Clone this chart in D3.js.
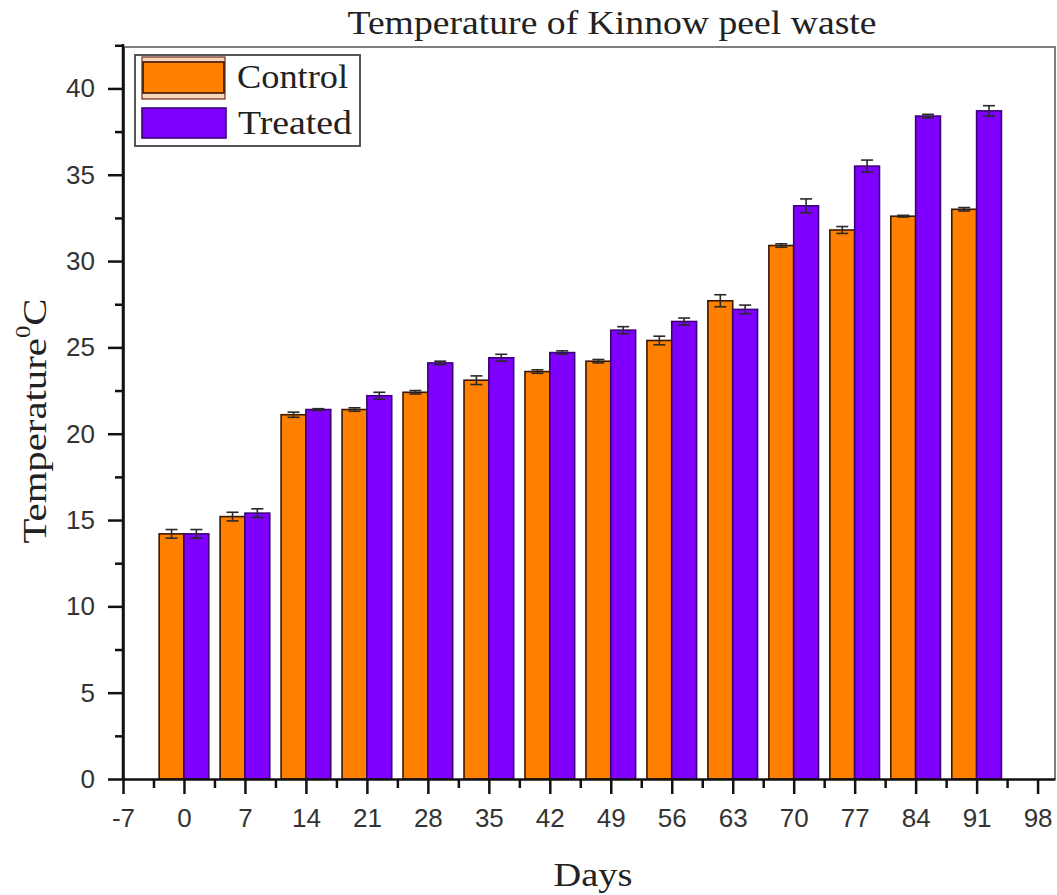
<!DOCTYPE html>
<html>
<head>
<meta charset="utf-8">
<script src="https://d3js.org/d3.v7.min.js"></script>
<style>
  html, body { margin: 0; padding: 0; background: #fff; }
  svg { display: block; }
</style>
</head>
<body>
<svg id="chart" width="1057" height="895"></svg>
<script>
// Composting days sampled
const days = [0, 7, 14, 21, 28, 35, 42, 49, 56, 63, 70, 77, 84, 91];
// Mean temperature (°C) and error half-widths
const controlTemp = [14.2, 15.2, 21.1, 21.4, 22.4, 23.1, 23.6, 24.2, 25.4, 27.7, 30.9, 31.8, 32.6, 33.0];
const controlErr  = [0.25, 0.25, 0.15, 0.1, 0.1, 0.25, 0.1, 0.1, 0.25, 0.35, 0.1, 0.2, 0.05, 0.1];
const treatedTemp = [14.2, 15.4, 21.4, 22.2, 24.1, 24.4, 24.7, 26.0, 26.5, 27.2, 33.2, 35.5, 38.4, 38.7];
const treatedErr  = [0.25, 0.25, 0.05, 0.2, 0.1, 0.2, 0.1, 0.2, 0.2, 0.25, 0.4, 0.35, 0.1, 0.3];
// Axis ticks
const xTicks = [-7, 0, 7, 14, 21, 28, 35, 42, 49, 56, 63, 70, 77, 84, 91, 98];
const yTicks = [0, 5, 10, 15, 20, 25, 30, 35, 40];

const seriesNames = ["Control", "Treated"];
const fills = ["#ff8000", "#8000ff"];
const strokes = ["#3a1800", "#3c0078"];

const svg = d3.select("#chart");
const plotL = 123, plotR = 1055, plotT = 47, plotB = 779;

const x = d3.scaleLinear().domain([-7, 100]).range([plotL, plotR]);
const y = d3.scaleLinear().domain([0, 42.4]).range([plotB, plotT]);
const barW = 2.85; // bar width in days

const series = [
  { name: seriesNames[0], vals: controlTemp, errs: controlErr, off: -barW, fill: fills[0], stroke: strokes[0] },
  { name: seriesNames[1], vals: treatedTemp, errs: treatedErr, off: 0, fill: fills[1], stroke: strokes[1] }
];

// Bars
series.forEach(s => {
  const g = svg.append("g");
  g.selectAll("rect")
    .data(days.map((d, i) => ({ d, v: s.vals[i], e: s.errs[i] })))
    .join("rect")
    .attr("x", p => x(p.d + s.off))
    .attr("width", x(barW) - x(0))
    .attr("y", p => y(p.v))
    .attr("height", p => y(0) - y(p.v))
    .attr("fill", s.fill)
    .attr("stroke", s.stroke)
    .attr("stroke-width", 1.6);
});

// Error bars
series.forEach(s => {
  const g = svg.append("g").attr("stroke", "#2a2a2a").attr("stroke-width", 1.6);
  days.forEach((d, i) => {
    const cx = x(d + s.off + barW / 2);
    const hi = y(s.vals[i] + s.errs[i]), lo = y(s.vals[i] - s.errs[i]);
    g.append("line").attr("x1", cx).attr("x2", cx).attr("y1", hi).attr("y2", lo);
    g.append("line").attr("x1", cx - 6).attr("x2", cx + 6).attr("y1", hi).attr("y2", hi);
    g.append("line").attr("x1", cx - 6).attr("x2", cx + 6).attr("y1", lo).attr("y2", lo);
  });
});

// Frame top and right
svg.append("path")
  .attr("d", `M${plotL},${plotT}H${plotR}V${plotB}`)
  .attr("fill", "none").attr("stroke", "#555").attr("stroke-width", 1.5);

// X axis
svg.append("g").attr("transform", `translate(0,${plotB})`)
  .call(d3.axisBottom(x).tickValues(xTicks).tickSize(15).tickSizeOuter(0).tickPadding(15).tickFormat(d => String(d)));
svg.append("g").attr("transform", `translate(0,${plotB})`)
  .call(d3.axisBottom(x).tickValues(xTicks.slice(0, -1).map(t => t + 3.5)).tickSize(9).tickSizeOuter(0).tickFormat(""))
  .select(".domain").remove();

// Y axis
svg.append("g").attr("transform", `translate(${plotL},0)`)
  .call(d3.axisLeft(y).tickValues(yTicks).tickSize(15).tickSizeOuter(0).tickPadding(13));
svg.append("g").attr("transform", `translate(${plotL},0)`)
  .call(d3.axisLeft(y).tickValues(yTicks.map(t => t + 2.5)).tickSize(8).tickSizeOuter(0).tickFormat(""))
  .select(".domain").remove();

svg.selectAll(".domain").attr("stroke", "#111").attr("stroke-width", 2.5);
svg.selectAll(".tick line").attr("stroke", "#111").attr("stroke-width", 2.5);
svg.selectAll(".tick text")
  .attr("font-family", "'Liberation Sans', Arial, sans-serif")
  .attr("font-size", 26).attr("fill", "#333");

// Extend left axis slightly above the plot frame
svg.append("line").attr("x1", plotL).attr("x2", plotL).attr("y1", plotT - 3).attr("y2", plotB)
  .attr("stroke", "#111").attr("stroke-width", 2.5);

// Titles
const serif = "'Liberation Serif', 'Times New Roman', serif";
svg.append("text").attr("x", 612).attr("y", 34).attr("text-anchor", "middle")
  .attr("font-family", serif).attr("font-size", 34).attr("fill", "#222")
  .attr("textLength", 529).attr("lengthAdjust", "spacingAndGlyphs")
  .text("Temperature of Kinnow peel waste");

svg.append("text").attr("x", 593).attr("y", 886).attr("text-anchor", "middle")
  .attr("font-family", serif).attr("font-size", 34).attr("fill", "#222")
  .attr("textLength", 79).attr("lengthAdjust", "spacingAndGlyphs")
  .text("Days");

const yl = svg.append("text")
  .attr("transform", "translate(46,421) rotate(-90)")
  .attr("text-anchor", "middle")
  .attr("font-family", serif).attr("font-size", 33).attr("fill", "#222")
  .attr("textLength", 245).attr("lengthAdjust", "spacingAndGlyphs");
yl.append("tspan").text("Temperature");
yl.append("tspan").attr("font-size", 20).attr("dy", -16).text("0");
yl.append("tspan").attr("dy", 16).text("C");

// Legend
const lg = svg.append("g");
lg.append("rect").attr("x", 135).attr("y", 55).attr("width", 225).attr("height", 91)
  .attr("fill", "#fff").attr("stroke", "#444").attr("stroke-width", 1.8);
// Control swatch with pale edge lines
lg.append("rect").attr("x", 142).attr("y", 57).attr("width", 83).attr("height", 42)
  .attr("fill", "#f9d6bb").attr("stroke", "#6b2c1a").attr("stroke-width", 1.2);
lg.append("rect").attr("x", 143).attr("y", 62).attr("width", 81).attr("height", 31)
  .attr("fill", fills[0]).attr("stroke", strokes[0]).attr("stroke-width", 1.6);
lg.append("rect").attr("x", 142).attr("y", 108).attr("width", 84).attr("height", 30)
  .attr("fill", fills[1]).attr("stroke", strokes[1]).attr("stroke-width", 1.6);
lg.append("text").attr("x", 237).attr("y", 88)
  .attr("font-family", serif).attr("font-size", 34).attr("fill", "#222")
  .attr("textLength", 111).attr("lengthAdjust", "spacingAndGlyphs")
  .text(seriesNames[0]);
lg.append("text").attr("x", 238).attr("y", 134)
  .attr("font-family", serif).attr("font-size", 34).attr("fill", "#222")
  .attr("textLength", 114).attr("lengthAdjust", "spacingAndGlyphs")
  .text(seriesNames[1]);
</script>
</body>
</html>
